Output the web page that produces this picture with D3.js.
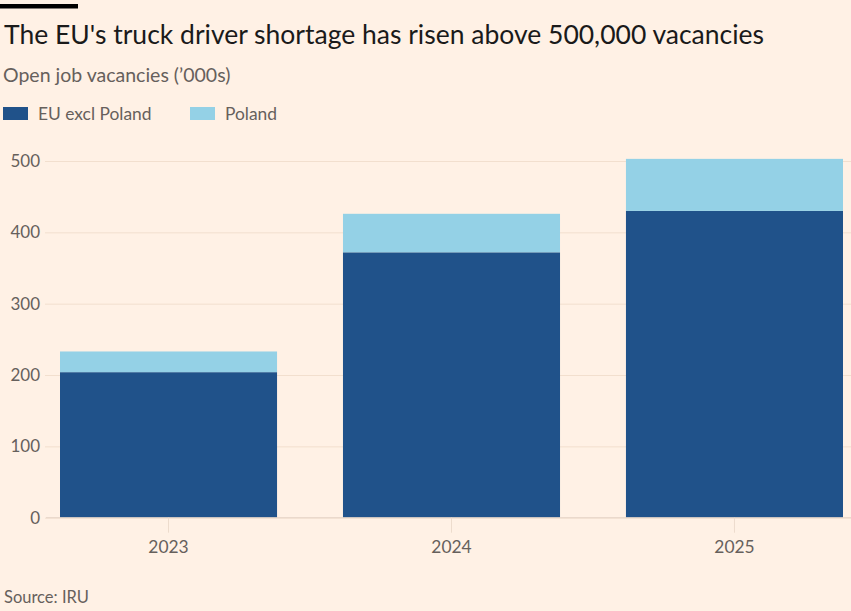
<!DOCTYPE html>
<html>
<head>
<meta charset="utf-8">
<script src="https://cdn.jsdelivr.net/npm/d3@7"></script>
<style>
  body { margin: 0; background: #fff1e5; }
  svg { display: block; font-family: Lato, "Noto Sans", sans-serif; }
</style>
</head>
<body>
<div id="chart"></div>
<script>
// data
var years = ["2023", "2024", "2025"];
var euExclPoland = [204, 372, 430];
var poland = [29, 54, 73];
var yTicks = [0, 100, 200, 300, 400, 500];
var seriesNames = ["EU excl Poland", "Poland"];
var seriesColors = ["#20528a", "#94d1e6"];

var w = 851, h = 611;
var svg = d3.select("#chart").append("svg")
    .attr("width", w)
    .attr("height", h);

svg.append("rect").attr("width", w).attr("height", h).attr("fill", "#fff1e5");

// header
svg.append("rect").attr("x", 0).attr("y", 4).attr("width", 78).attr("height", 4.5).attr("fill", "#000");
svg.append("text")
    .attr("x", 4).attr("y", 43.5)
    .attr("font-size", 26.5)
    .attr("fill", "#1a1a1a")
    .text("The EU's truck driver shortage has risen above 500,000 vacancies");
svg.append("text")
    .attr("x", 3).attr("y", 82)
    .attr("font-size", 19.5)
    .attr("fill", "#66605c")
    .text("Open job vacancies (\u2019000s)");

// legend
var legendX = [3, 190];
seriesNames.forEach(function(name, i) {
  svg.append("rect")
      .attr("x", legendX[i]).attr("y", 107)
      .attr("width", 25).attr("height", 13)
      .attr("fill", seriesColors[i]);
  svg.append("text")
      .attr("x", legendX[i] + 35).attr("y", 120)
      .attr("font-size", 17.4)
      .attr("fill", "#66605c")
      .text(name);
});

// scales
var x = d3.scaleBand().domain(years).range([60, 843]).paddingInner(0.233).paddingOuter(0);
var y = d3.scaleLinear().domain([0, 500]).range([517.7, 161]);

// gridlines + y labels
var yAxis = svg.append("g").attr("transform", "translate(45,0)")
    .call(d3.axisLeft(y).tickValues(yTicks).tickSize(-(w - 45)).tickPadding(5));
yAxis.select(".domain").remove();
yAxis.selectAll(".tick line").attr("stroke", "#f2dfce").attr("stroke-width", 1);
yAxis.selectAll(".tick text")
    .attr("font-size", 17).attr("fill", "#66605c")
    .attr("font-family", "Lato, 'Noto Sans', sans-serif");

// stacked bars
var rows = years.map(function(yr, i) {
  return { year: yr, eu: euExclPoland[i], pl: poland[i] };
});
var stack = d3.stack().keys(["eu", "pl"])(rows);

svg.append("g").selectAll("g")
    .data(stack)
    .enter().append("g")
    .attr("fill", function(d, i) { return seriesColors[i]; })
  .selectAll("rect")
    .data(function(d) { return d; })
    .enter().append("rect")
    .attr("x", function(d) { return x(d.data.year); })
    .attr("width", x.bandwidth())
    .attr("y", function(d) { return y(d[1]); })
    .attr("height", function(d) { return y(d[0]) - y(d[1]); });

// x axis
var xAxis = svg.append("g").attr("transform", "translate(0,517.7)")
    .call(d3.axisBottom(x).tickSize(15).tickPadding(8));
xAxis.select(".domain").attr("d", "M46,0H" + w).attr("stroke", "#e6d6c8");
xAxis.selectAll(".tick line").attr("stroke", "#eddccd");
xAxis.selectAll(".tick text")
    .attr("font-size", 17.4).attr("fill", "#66605c")
    .attr("font-family", "Lato, 'Noto Sans', sans-serif");

// source
svg.append("text")
    .attr("x", 4).attr("y", 603)
    .attr("font-size", 16.5)
    .attr("fill", "#66605c")
    .text("Source: IRU");
</script>
</body>
</html>
